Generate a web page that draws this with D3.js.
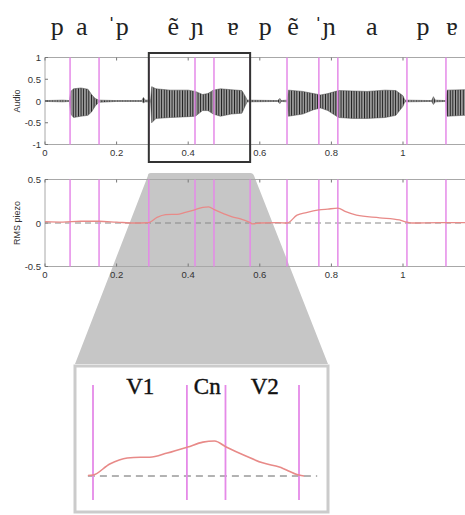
<!DOCTYPE html>
<html><head><meta charset="utf-8">
<script src="https://cdn.jsdelivr.net/npm/d3@7"></script>
<style>body{margin:0;background:#fff}svg{display:block}</style>
</head><body>
<script>
// ---- data ----
const ipaLabels = ["p","a","ˈp","ẽ","ɲ","ɐ","p","ẽ","ˈɲ","a","p","ɐ"];
const ipaTimes  = [0.034,0.103,0.204,0.358,0.425,0.525,0.615,0.693,0.782,0.913,1.056,1.137];
const boundaries = [0.070,0.151,0.290,0.419,0.472,0.573,0.676,0.765,0.818,1.011,1.120];
const xTicks = [0,0.2,0.4,0.6,0.8,1];
const audioTicks = [-1,-0.5,0,0.5,1];
const rmsTicks = [-0.5,0,0.5];
const audioT  = [0,0.05,0.068,0.072,0.08,0.10,0.12,0.13,0.14,0.15,0.2,0.27,0.275,0.28,0.295,0.298,0.31,0.35,0.40,0.42,0.44,0.455,0.47,0.49,0.52,0.55,0.56,0.565,0.65,0.656,0.66,0.677,0.68,0.72,0.75,0.77,0.79,0.82,0.86,0.90,0.95,0.98,1.0,1.005,1.08,1.085,1.09,1.12,1.123,1.17,1.2];
const audioHi = [0.01,0.02,0.01,0.22,0.28,0.30,0.27,0.15,0.06,0.02,0.01,0.01,0.08,0.02,0.02,0.33,0.28,0.25,0.25,0.22,0.15,0.17,0.25,0.28,0.26,0.24,0.10,0.02,0.01,0.06,0.01,0.02,0.25,0.22,0.17,0.14,0.17,0.24,0.23,0.22,0.25,0.24,0.12,0.02,0.01,0.10,0.02,0.01,0.25,0.26,0.25];
const audioLo = [-0.01,-0.02,-0.01,-0.30,-0.38,-0.35,-0.33,-0.25,-0.12,-0.03,-0.01,-0.01,-0.04,-0.02,-0.02,-0.50,-0.40,-0.38,-0.36,-0.35,-0.22,-0.22,-0.30,-0.35,-0.30,-0.28,-0.10,-0.02,-0.01,-0.06,-0.01,-0.02,-0.35,-0.30,-0.20,-0.16,-0.22,-0.38,-0.40,-0.40,-0.38,-0.33,-0.12,-0.02,-0.01,-0.08,-0.02,-0.01,-0.35,-0.33,-0.33];
const rmsT = [0,0.05,0.1,0.15,0.2,0.25,0.283,0.29,0.313,0.337,0.355,0.368,0.392,0.42,0.441,0.457,0.473,0.5,0.523,0.546,0.573,0.58,0.6,0.65,0.676,0.704,0.73,0.765,0.79,0.818,0.84,0.87,0.935,0.99,1.011,1.025,1.1,1.2];
const rmsV = [0.015,0.01,0.02,0.02,0.01,0.0,0.003,0.005,0.064,0.096,0.10,0.10,0.122,0.154,0.18,0.186,0.154,0.106,0.07,0.048,0.005,-0.01,0.0,0.005,0.0,0.09,0.12,0.15,0.16,0.17,0.13,0.09,0.06,0.035,0.01,0.0,0.005,0.005];
const zoomRange = [0.29,0.573];
const insetRange = [0.283,0.598];
const insetLabels = ["V1","Cn","V2"];
const insetLabelTimes = [0.355,0.447,0.526];

// ---- drawing ----
const W=465,H=515;
const svg=d3.select("body").append("svg").attr("width",W).attr("height",H);
const defs=svg.append("defs");
const pat=defs.append("pattern").attr("id","wave").attr("patternUnits","userSpaceOnUse").attr("width",2.6).attr("height",4);
pat.append("rect").attr("width",2.6).attr("height",4).attr("fill","#9a9a9a");
pat.append("rect").attr("width",0.9).attr("height",4).attr("fill","#1a1a1a");
defs.append("clipPath").attr("id","c1").append("rect").attr("x",45).attr("y",57).attr("width",W-45).attr("height",88);
defs.append("clipPath").attr("id","c2").append("rect").attr("x",45).attr("y",179.5).attr("width",W-45).attr("height",87);

const x=d3.scaleLinear().domain([0,1.2]).range([45,45+358*1.2]);
const yA=d3.scaleLinear().domain([-1,1]).range([144.5,57.5]);
const yR=d3.scaleLinear().domain([-0.5,0.5]).range([266.5,179.5]);
const frameCol="#a8a8a8", magenta="#e58ae8", tickCol="#333";
const sans="'Liberation Sans', Arial, sans-serif", serif="'Liberation Serif','Times New Roman',serif";

// IPA header
svg.append("g").selectAll("text").data(ipaLabels).join("text")
  .attr("x",(d,i)=>x(ipaTimes[i])).attr("y",35).attr("text-anchor","middle")
  .attr("font-family",serif).attr("font-size",26).attr("fill","#222").text(d=>d);

function panel(y, ticks, label, yc){
  const g=svg.append("g");
  g.append("line").attr("x1",45).attr("x2",W).attr("y1",y.range()[1]).attr("y2",y.range()[1]).attr("stroke",frameCol);
  g.append("line").attr("x1",45).attr("x2",W).attr("y1",y.range()[0]).attr("y2",y.range()[0]).attr("stroke",frameCol);
  g.append("line").attr("x1",45).attr("x2",45).attr("y1",y.range()[1]).attr("y2",y.range()[0]).attr("stroke",frameCol);
  xTicks.forEach(t=>{
    g.append("line").attr("x1",x(t)).attr("x2",x(t)).attr("y1",y.range()[0]).attr("y2",y.range()[0]-3).attr("stroke","#777");
    g.append("line").attr("x1",x(t)).attr("x2",x(t)).attr("y1",y.range()[1]).attr("y2",y.range()[1]+3).attr("stroke","#777");
    g.append("text").attr("x",x(t)).attr("y",y.range()[0]+11).attr("text-anchor","middle")
      .attr("font-family",sans).attr("font-size",9.5).attr("fill",tickCol).text(t);
  });
  ticks.forEach(v=>{
    g.append("line").attr("x1",45).attr("x2",48).attr("y1",y(v)).attr("y2",y(v)).attr("stroke","#777");
    g.append("text").attr("x",41).attr("y",y(v)+3.5).attr("text-anchor","end")
      .attr("font-family",sans).attr("font-size",9.5).attr("fill",tickCol).text(v);
  });
  g.append("text").attr("transform",`translate(20,${yc}) rotate(-90)`).attr("text-anchor","middle")
    .attr("font-family",sans).attr("font-size",9).attr("fill",tickCol).text(label);
  return g;
}

// gray zoom funnel (behind bottom panel content)
const z0=x(zoomRange[0]), z1=x(zoomRange[1]);
svg.append("path").attr("d",`M${z0-1},176 Q${z0-1},173 ${z0+2},173 L${z1},173 Q${z1+3},173 ${z1+4},176 L328,364 L75,364 Z`).attr("fill","#c6c6c6");

// top panel
panel(yA,audioTicks,"Audio",yA(0));
const area=d3.area().x((d,i)=>x(audioT[i])).y0((d,i)=>yA(audioLo[i])).y1(d=>yA(d));
svg.append("path").attr("clip-path","url(#c1)").attr("d",area(audioHi)).attr("fill","url(#wave)").attr("stroke","#444").attr("stroke-width",0.5);
svg.append("g").selectAll("line").data(boundaries).join("line")
  .attr("x1",d=>x(d)).attr("x2",d=>x(d)).attr("y1",57.5).attr("y2",144.5).attr("stroke",magenta).attr("stroke-width",1.5);

// bottom panel
panel(yR,rmsTicks,"RMS piezo",yR(0));
svg.append("line").attr("x1",45).attr("x2",W).attr("y1",yR(0)).attr("y2",yR(0)).attr("stroke","#888").attr("stroke-dasharray","6,4");
svg.append("g").selectAll("line").data(boundaries).join("line")
  .attr("x1",d=>x(d)).attr("x2",d=>x(d)).attr("y1",179.5).attr("y2",266.5).attr("stroke",magenta).attr("stroke-width",1.5);
const rmsLine=d3.line().x((d,i)=>x(rmsT[i])).y(d=>yR(d)).curve(d3.curveMonotoneX);
svg.append("path").attr("clip-path","url(#c2)").attr("d",rmsLine(rmsV)).attr("fill","none").attr("stroke","#e88a88").attr("stroke-width",1.3);

// zoom box on top panel
svg.append("rect").attr("x",z0).attr("y",53).attr("width",z1-z0).attr("height",109).attr("fill","none").attr("stroke","#333").attr("stroke-width",2);

// inset
svg.append("rect").attr("x",75).attr("y",366).attr("width",253).attr("height",146).attr("fill","#fff").attr("stroke","#cbcbcb").attr("stroke-width",3);
const xi=d3.scaleLinear().domain(zoomRange).range([93,299]);
const yi=d3.scaleLinear().domain([0,0.186]).range([476,441]);
svg.append("line").attr("x1",xi(insetRange[0])).attr("x2",xi(insetRange[1])).attr("y1",yi(0)).attr("y2",yi(0)).attr("stroke","#666").attr("stroke-dasharray","7,5");
svg.append("g").selectAll("line").data(boundaries.filter(b=>b>=zoomRange[0]&&b<=zoomRange[1])).join("line")
  .attr("x1",d=>xi(d)).attr("x2",d=>xi(d)).attr("y1",385).attr("y2",500).attr("stroke",magenta).attr("stroke-width",1.8);
const idx=rmsT.map((t,i)=>i).filter(i=>rmsT[i]>=insetRange[0]&&rmsT[i]<=insetRange[1]);
const insetLine=d3.line().x(i=>xi(rmsT[i])).y(i=>yi(Math.max(rmsV[i],0))).curve(d3.curveMonotoneX);
svg.append("path").attr("d",insetLine(idx)).attr("fill","none").attr("stroke","#e88a88").attr("stroke-width",1.6);
svg.append("g").selectAll("text").data(insetLabels).join("text")
  .attr("x",(d,i)=>xi(insetLabelTimes[i])).attr("y",394).attr("text-anchor","middle")
  .attr("font-family",serif).attr("font-size",23).attr("fill","#111").attr("stroke","#111").attr("stroke-width",0.4).text(d=>d);
</script>
</body></html>
